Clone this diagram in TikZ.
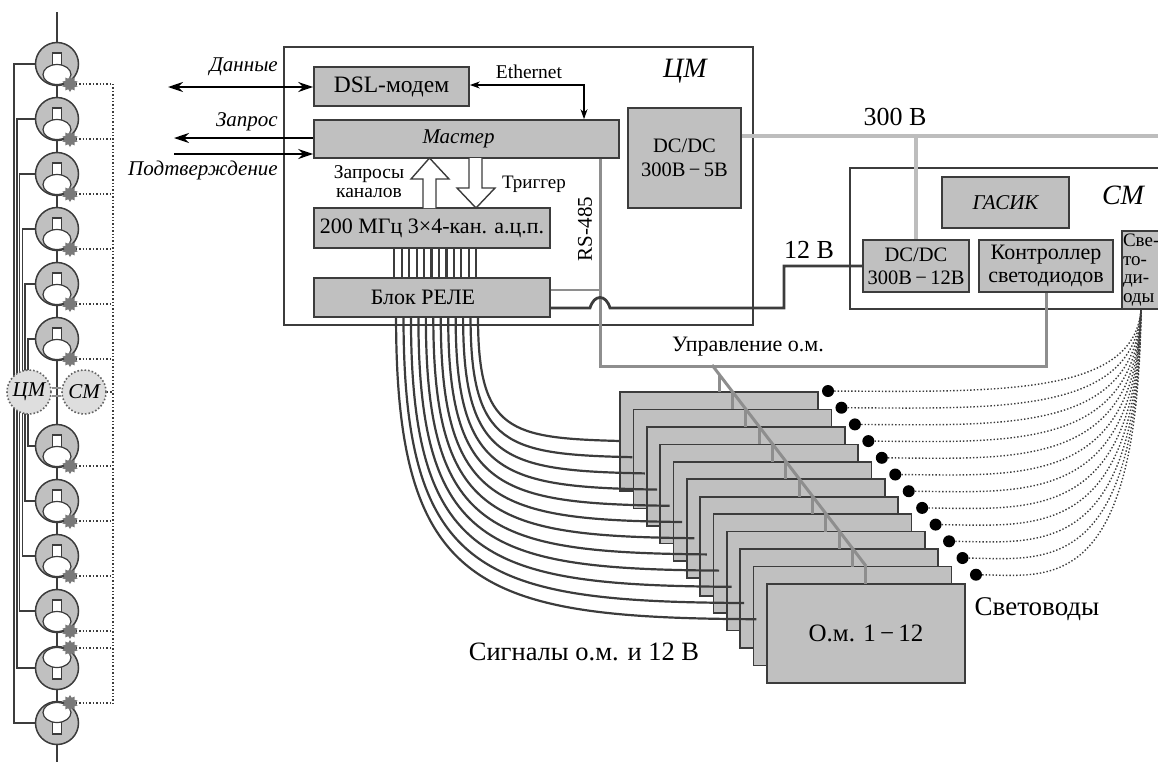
\documentclass[tikz,border=0pt]{standalone}
\usepackage{fontspec}
\setmainfont{Liberation Serif}
\usetikzlibrary{arrows.meta,calc,shapes.geometric}
\definecolor{BlockFill}{HTML}{C0C0C0}
\definecolor{DiscFill}{HTML}{DEDEDE}
\definecolor{InkDark}{HTML}{3C3C3C}
\definecolor{WireMid}{HTML}{8E8E8E}
\definecolor{WireLight}{HTML}{BDBDBD}
\tikzset{
  blockbox/.style={draw=InkDark, fill=BlockFill, line width=1.7pt, inner sep=0pt, align=center, font=\fontsize{22}{24}\selectfont},
  framebox/.style={draw=InkDark, line width=1.6pt, inner sep=0pt},
  pmtbody/.style={circle, draw=InkDark, fill=BlockFill, line width=1.5pt, minimum size=43pt, inner sep=0pt},
  dynstar/.style={star, star points=10, star point ratio=1.45, fill=WireMid!85!black, minimum size=16pt, inner sep=0pt},
  moddisc/.style={circle, draw=InkDark!80, dotted, fill=DiscFill, line width=1.6pt, minimum size=44pt, inner sep=0pt, font=\fontsize{21}{23}\selectfont\itshape},
  cablewire/.style={InkDark, line width=2.2pt},
  fatarrow/.style={draw=InkDark, fill=white, line width=1.4pt, line join=miter},
  sigarrow/.style={line width=2pt, -{Stealth[length=15pt,width=10pt]}},
  dotwire/.style={InkDark, dotted, line width=1.4pt},
  sidelabel/.style={font=\fontsize{21}{24}\selectfont\itshape, anchor=east, inner sep=0pt}
}
\begin{document}
\begin{tikzpicture}[x=1pt, y=-1pt]
  \useasboundingbox (0,0) rectangle (1158,764);

  % photomultiplier column
  \coordinate (axistop) at (57,12);
  \coordinate (axisend) at (57,762);
  \draw[InkDark, line width=1.4pt] (axistop) -- (axisend);
  \foreach \i/\cy/\s/\bx in {1/64/1/14, 2/119/1/16.8, 3/174/1/19.6, 4/229/1/22.4, 5/284/1/25.2, 6/339/1/28,
      7/446/1/28, 8/501/1/25.2, 9/556/1/22.4, 10/611/1/19.6, 11/668/-1/16.8, 12/723/-1/14}{
    \node[pmtbody] (pmt\i) at (57,\cy) {};
    \draw[InkDark, line width=1.5pt] (pmt\i.west) -- (\bx,\cy) -- (\bx,392);
    \draw[InkDark, fill=white, line width=1.1pt] (52.5,\cy-\s*11) rectangle (61.5,\cy+\s*2);
    \draw[InkDark, fill=white, line width=1.2pt] (57,\cy+\s*10.5) ellipse [x radius=14, y radius=10];
    \node[dynstar] (dyn\i) at (70,\cy+\s*20) {};
    \draw[dotwire] (dyn\i) -- (113,\cy+\s*20);
  }
  \draw[dotwire] (113,84) -- (113,703);
  \node[moddisc] (cmdisc) at (29,392) {ЦМ};
  \node[moddisc] (smdisc) at (84,392) {СМ};
  \draw[WireMid, line width=1.6pt] ([yshift=4pt]cmdisc.east) -- ([yshift=4pt]smdisc.west);
  \draw[WireMid, line width=1.6pt] ([yshift=-4pt]cmdisc.east) -- ([yshift=-4pt]smdisc.west);
  \draw[dotwire] (smdisc.east) -- (113,392);

  % central module
  \node[framebox, minimum width=469pt, minimum height=278pt] (cmbox) at (518.5,186) {};
  \node[blockbox, minimum width=155pt, minimum height=39pt, font=\fontsize{23.5}{26}\selectfont] (dsl) at (391.5,86.5) {DSL-модем};
  \node[blockbox, minimum width=305pt, minimum height=38pt, font=\fontsize{21}{24}\selectfont\itshape] (master) at (466.5,139) {\hspace*{-16pt}Мастер};
  \node[blockbox, minimum width=236pt, minimum height=40pt] (adc) at (432,228) {200 МГц 3×4-кан. а.ц.п.};
  \node[blockbox, minimum width=236pt, minimum height=39pt] (relay) at (432,297.5) {\hspace*{-18pt}Блок РЕЛЕ};
  \node[blockbox, minimum width=113pt, minimum height=100pt, font=\fontsize{20.5}{24}\selectfont] (dcfive) at (684.5,158) {DC/DC\\300В\,−\,5В};
  \node[font=\fontsize{28}{30}\selectfont\itshape] (cmlabel) at (685,71) {ЦМ};

  % external signals
  \coordinate (datafree) at (168,87);
  \coordinate (reqfree) at (174,138);
  \coordinate (ackfree) at (174,154);
  \draw[line width=2pt, {Stealth[length=15pt,width=10pt]}-{Stealth[length=15pt,width=10pt]}] (datafree) -- (dsl.west |- datafree);
  \draw[sigarrow] (master.west |- reqfree) -- (reqfree);
  \draw[sigarrow] (ackfree) -- (master.west |- ackfree);
  \node[sidelabel] (datalabel) at (278,67) {Данные};
  \node[sidelabel] (reqlabel) at (278,122) {Запрос};
  \node[sidelabel] (acklabel) at (278,170) {Подтверждение};

  % ethernet
  \coordinate (ethturn) at (584,85);
  \draw[line width=1.3pt, {Stealth[length=10pt,width=7pt]}-{Stealth[length=10pt,width=7pt]}] (dsl.east |- ethturn) -- (ethturn) -- (master.north -| ethturn);
  \node[font=\fontsize{19.5}{22}\selectfont] (ethlabel) at (529,72) {Ethernet};

  % fat arrows
  \draw[fatarrow] (423,208) -- (423,179) -- (411,179) -- (429.5,158) -- (449,179) -- (436,179) -- (436,208);
  \draw[fatarrow] (469,158) -- (469,188) -- (457,188) -- (476,208) -- (495,188) -- (482,188) -- (482,158);
  \node[font=\fontsize{19.5}{19}\selectfont, align=center] (reqchan) at (369,182) {Запросы\\каналов};
  \node[font=\fontsize{19}{22}\selectfont] (trigger) at (534,184) {Триггер};

  % adc to relay
  \foreach \k in {0,...,11}{
    \draw[cablewire] ({394.3+7.45*\k},248) -- ({394.3+7.45*\k},278);
  }

  % modules
  \foreach \i in {0,...,11}{
    \node[blockbox, minimum width=198pt, minimum height=99pt] (om\i) at ({719+13.36*\i},{441.5+17.45*\i}) {};
  }
  \node[font=\fontsize{25}{27}\selectfont] (omlabel) at (om11) {О.м. 1\,−\,12};

  % signal cables
  \foreach \i in {0,...,11}{
    \coordinate (sigend\i) at ({620+12.4*\i},{441+16.2*\i});
    \draw[cablewire] ({478-7.45*\i},317) .. controls ({478-7.45*\i},{432+14.36*\i}) and ({510-2.73*\i},{438+16.36*\i}) .. (sigend\i);
  }

  % satellite module
  \node[framebox, minimum width=350pt, minimum height=141pt] (smbox) at (1025,238.5) {};
  \node[blockbox, minimum width=127pt, minimum height=51pt, font=\fontsize{21}{24}\selectfont\itshape] (gasik) at (1005.5,202.5) {ГАСИК};
  \node[blockbox, minimum width=106pt, minimum height=52pt, font=\fontsize{20.5}{23}\selectfont] (dctwelve) at (916,266) {DC/DC\\300В\,−\,12В};
  \node[blockbox, minimum width=134pt, minimum height=52pt, font=\fontsize{22}{23}\selectfont] (ledctrl) at (1046,266) {Контроллер\\светодиодов};
  \node[blockbox, minimum width=50pt, minimum height=78pt, align=left, font=\fontsize{19}{18.7}\selectfont, text width=48pt] (leds) at (1147,270) {Све-\\то-\\ди-\\оды};
  \node[font=\fontsize{28}{30}\selectfont\itshape] (smlabel) at (1123,195) {СМ};

  % control bus
  \coordinate (rsturn) at (600,366);
  \draw[WireMid, line width=3pt] (master.south -| rsturn) -- (rsturn) -- (rsturn -| ledctrl.south) -- (ledctrl.south);
  \draw[WireMid, line width=2.4pt] ([yshift=7.5pt]relay.east) -- ([yshift=7.5pt]relay.east -| rsturn);
  \coordinate (diagtop) at (712,365);
  \coordinate (diagend) at (866,566);
  \draw[WireMid, line width=3pt] (diagtop) -- (diagend);
  \foreach \i in {0,...,11}{
    \draw[WireMid, line width=3pt] ({719+13.36*\i},{374+17.45*\i}) -- ({719+13.36*\i},{392+17.45*\i});
  }
  \node[font=\fontsize{21}{24}\selectfont, rotate=90] (rslabel) at (585,229) {RS-485};
  \node[font=\fontsize{22}{24}\selectfont] (ctrllabel) at (748,347) {Управление о.м.};

  % power lines
  \coordinate (hvend) at (1158,136);
  \draw[WireLight, line width=3.4pt] (dcfive.east |- hvend) -- (hvend);
  \draw[WireLight, line width=3.4pt] (dctwelve.north |- hvend) -- (dctwelve.north);
  \node[font=\fontsize{26}{28}\selectfont] (hvlabel) at (895,117) {300 В};
  \coordinate (lvturn) at (784,308);
  \draw[InkDark, line width=2.8pt] ([yshift=-10.5pt]relay.east) -- (590,308) .. controls (594,294) and (606,294) .. (610,308) -- (lvturn) -- (lvturn |- dctwelve.west) -- (dctwelve.west);
  \node[font=\fontsize{26}{28}\selectfont] (lvlabel) at (809,250) {12 В};

  % fibres
  \foreach \i in {0,...,11}{
    \node[circle, fill=black, minimum size=12pt, inner sep=0pt] (fibre\i) at ({828+13.45*\i},{391+16.7*\i}) {};
    \draw[dotwire] (fibre\i) .. controls ({1000+4.55*\i},{392+16.7*\i}) and ({1135+0.27*\i},{395+18.2*\i}) .. (1141,309);
  }
  \node[font=\fontsize{27}{29}\selectfont] (fibrelabel) at (1037,609) {Световоды};
  \node[font=\fontsize{26.5}{29}\selectfont] (siglabel) at (584,652) {Сигналы о.м. и 12 В};
\end{tikzpicture}
\end{document}
